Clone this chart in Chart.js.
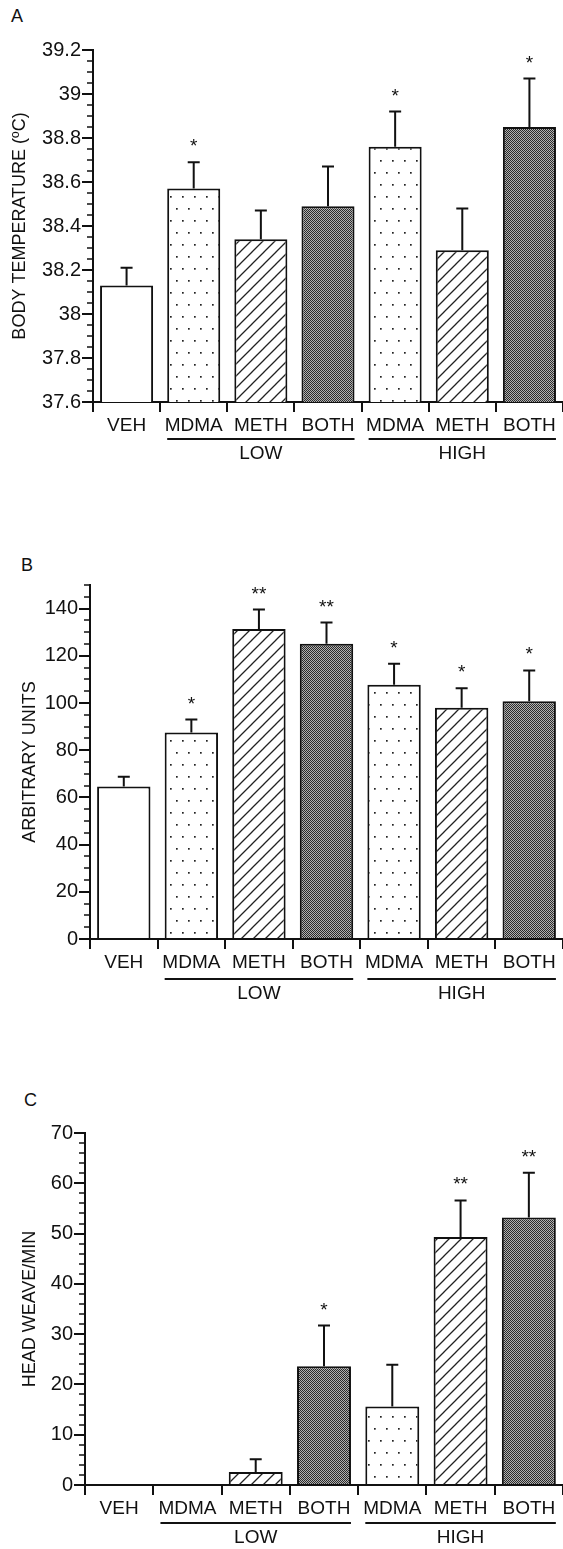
<!DOCTYPE html>
<html>
<head>
<meta charset="utf-8">
<script src="https://cdn.jsdelivr.net/npm/chart.js@4/dist/chart.umd.min.js"></script>
<style>
  body { margin: 0; background: #fff; width: 563px; height: 1549px; position: relative; overflow: hidden; }
  .panel { position: absolute; left: 0; width: 563px; }
  .letter { position: absolute; font: 18px "Liberation Sans", Arial, sans-serif; color: #111; }
</style>
</head>
<body>
<div class="letter" style="left:11px;top:6px">A</div>
<div class="letter" style="left:21px;top:555px">B</div>
<div class="letter" style="left:24px;top:1090px">C</div>
<div class="panel" style="top:0"><canvas id="chartA" width="563" height="500"></canvas></div>
<div class="panel" style="top:520px"><canvas id="chartB" width="563" height="500"></canvas></div>
<div class="panel" style="top:1040px"><canvas id="chartC" width="563" height="509"></canvas></div>
<script>
// categories and groups
const categories = ['VEH', 'MDMA', 'METH', 'BOTH', 'MDMA', 'METH', 'BOTH'];
const groupNames = ['LOW', 'HIGH'];
const groupSpans = [[1, 3], [4, 6]];

// A: body temperature
const tempMean = [38.13, 38.57, 38.34, 38.49, 38.76, 38.29, 38.85];
const tempErr = [0.08, 0.12, 0.13, 0.18, 0.16, 0.19, 0.22];
const tempStars = ['', '*', '', '', '*', '', '*'];
const tempTicks = [37.6, 37.8, 38, 38.2, 38.4, 38.6, 38.8, 39, 39.2];

// B: arbitrary units
const unitsMean = [64.6, 87.5, 131.4, 125.1, 107.7, 98.0, 100.7];
const unitsErr = [4.1, 5.5, 8.2, 9.0, 8.9, 8.2, 13.1];
const unitsStars = ['', '*', '**', '**', '*', '*', '*'];
const unitsTicks = [0, 20, 40, 60, 80, 100, 120, 140];

// C: head weave / min
const weaveMean = [0, 0, 2.6, 23.6, 15.6, 49.3, 53.2];
const weaveErr = [0, 0, 2.5, 8.1, 8.3, 7.3, 8.9];
const weaveStars = ['', '', '', '*', '', '**', '**'];
const weaveTicks = [0, 10, 20, 30, 40, 50, 60, 70];

const FONT = '"Liberation Sans", Arial, sans-serif';
const INK = '#111';

function tile(w, h, draw) {
    const c = document.createElement('canvas');
    c.width = w; c.height = h;
    const g = c.getContext('2d');
    g.fillStyle = '#fff';
    g.fillRect(0, 0, w, h);
    draw(g);
    return g.createPattern(c, 'repeat');
}

const dotFill = tile(12, 24, g => {
    g.fillStyle = '#222';
    g.fillRect(2, 4, 1.7, 1.7);
    g.fillRect(8, 16, 1.7, 1.7);
});
const hatchFill = tile(12, 12, g => {
    g.strokeStyle = '#222';
    g.lineWidth = 1.3;
    g.beginPath();
    g.moveTo(-1, 13); g.lineTo(13, -1);
    g.moveTo(-2, 2); g.lineTo(2, -2);
    g.moveTo(10, 14); g.lineTo(14, 10);
    g.stroke();
});
const crossFill = tile(2, 2, g => {
    g.fillStyle = '#b0b0b0';
    g.fillRect(0, 0, 2, 2);
    g.fillStyle = '#2a2a2a';
    g.fillRect(0, 0, 1, 1);
    g.fillRect(1, 1, 1, 1);
});
const fills = ['#fff', dotFill, hatchFill, crossFill, dotFill, hatchFill, crossFill];

const decor = {
    id: 'decor',
    afterDraw(chart) {
        const o = chart.options.plugins.decor;
        const ctx = chart.ctx;
        const xs = chart.scales.x, ys = chart.scales.y;
        const values = chart.data.datasets[0].data;
        ctx.save();
        ctx.strokeStyle = INK;
        ctx.fillStyle = INK;

        // minor ticks on the y axis
        ctx.lineWidth = 1.5;
        const n = Math.round((ys.max - ys.min) / o.minor);
        for (let i = 0; i <= n; i++) {
            const p = Math.round(ys.getPixelForValue(ys.min + i * o.minor));
            ctx.beginPath();
            ctx.moveTo(ys.right - 6, p);
            ctx.lineTo(ys.right, p);
            ctx.stroke();
        }

        // error bars and stars
        const bars = chart.getDatasetMeta(0).data;
        ctx.lineWidth = 2;
        ctx.font = '19px ' + FONT;
        ctx.textAlign = 'center';
        ctx.textBaseline = 'alphabetic';
        bars.forEach((bar, i) => {
            const e = o.err[i];
            if (!e) return;
            const top = ys.getPixelForValue(values[i] + e);
            ctx.beginPath();
            ctx.moveTo(bar.x, bar.y);
            ctx.lineTo(bar.x, top);
            ctx.moveTo(bar.x - 6, top);
            ctx.lineTo(bar.x + 6, top);
            ctx.stroke();
            if (o.stars[i]) ctx.fillText(o.stars[i], bar.x, top - 21 + 11);
        });

        // group lines under the category labels
        ctx.font = '19px ' + FONT;
        ctx.textBaseline = 'middle';
        groupSpans.forEach((span, k) => {
            const a = bars[span[0]], b = bars[span[1]];
            const x0 = a.x - a.width / 2, x1 = b.x + b.width / 2;
            const ly = xs.top + o.lineGap;
            ctx.beginPath();
            ctx.moveTo(x0, ly);
            ctx.lineTo(x1, ly);
            ctx.stroke();
            ctx.fillText(groupNames[k], (x0 + x1) / 2, xs.top + o.textGap);
        });
        ctx.restore();
    }
};

function makeChart(id, p) {
    const canvas = document.getElementById(id);
    const H = canvas.height;
    return new Chart(canvas.getContext('2d'), {
        type: 'bar',
        data: {
            labels: categories,
            datasets: [{
                data: p.mean,
                backgroundColor: fills,
                borderColor: INK,
                borderWidth: 2,
                borderSkipped: 'start',
                barPercentage: 0.79,
                categoryPercentage: 1
            }]
        },
        options: {
            responsive: false,
            animation: false,
            layout: { padding: { top: p.areaTop, left: 0, right: 0, bottom: 0 } },
            plugins: {
                legend: { display: false },
                tooltip: { enabled: false },
                decor: { err: p.err, stars: p.stars, minor: p.minor, lineGap: p.lineGap, textGap: p.textGap }
            },
            scales: {
                x: {
                    offset: true,
                    grid: { offset: true, drawOnChartArea: false, drawTicks: true, tickLength: 10, color: INK, lineWidth: 2 },
                    border: { color: INK, width: 2 },
                    ticks: { color: INK, font: { size: 19, family: FONT }, padding: 2, maxRotation: 0, autoSkip: false },
                    afterFit: s => { s.height = H - p.areaBottom; }
                },
                y: {
                    min: p.min,
                    max: p.max,
                    afterBuildTicks: s => { s.ticks = p.ticks.map(v => ({ value: v })); },
                    grid: { drawOnChartArea: false, tickLength: 11, color: INK, lineWidth: 2 },
                    border: { color: INK, width: 2 },
                    ticks: { color: INK, font: { size: 20, family: FONT }, padding: 1, callback: v => String(v) },
                    title: { display: true, text: p.title, color: INK, font: { size: 18, family: FONT }, padding: { top: p.titlePad, bottom: 0 } },
                    afterFit: s => { s.width = p.left; }
                }
            }
        },
        plugins: [decor]
    });
}

makeChart('chartA', {
    mean: tempMean, err: tempErr, stars: tempStars, ticks: tempTicks,
    min: 37.6, max: 39.2, minor: 0.05, title: 'BODY TEMPERATURE (ºC)',
    areaTop: 50, areaBottom: 402, left: 93, titlePad: 9, lineGap: 37, textGap: 52
});
makeChart('chartB', {
    mean: unitsMean, err: unitsErr, stars: unitsStars, ticks: unitsTicks,
    min: 0, max: 150, minor: 5, title: 'ARBITRARY UNITS',
    areaTop: 65, areaBottom: 419, left: 90, titlePad: 19, lineGap: 40, textGap: 55
});
makeChart('chartC', {
    mean: weaveMean, err: weaveErr, stars: weaveStars, ticks: weaveTicks,
    min: 0, max: 70, minor: 2, title: 'HEAD WEAVE/MIN',
    areaTop: 93, areaBottom: 445, left: 85, titlePad: 19, lineGap: 38, textGap: 53
});
</script>
</body>
</html>
